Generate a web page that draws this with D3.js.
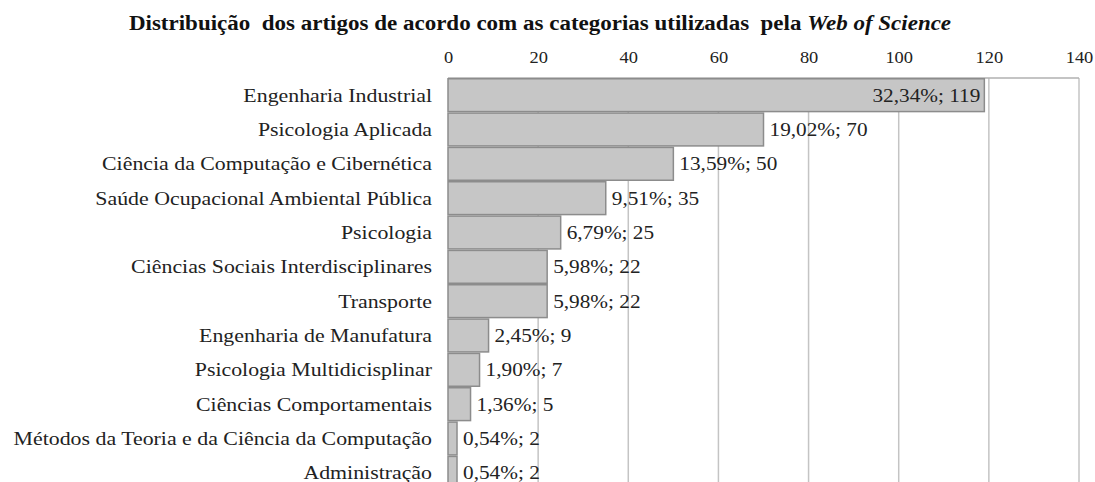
<!DOCTYPE html>
<html><head><meta charset="utf-8">
<script src="https://cdn.jsdelivr.net/npm/d3@7"></script>
<style>body{margin:0;background:#fff}svg{display:block}text{white-space:pre}</style>
</head><body>
<svg id="c" width="1095" height="482"></svg>
<script>
const categories = ["Engenharia Industrial","Psicologia Aplicada","Ciência da Computação e Cibernética","Saúde Ocupacional Ambiental Pública","Psicologia","Ciências Sociais Interdisciplinares","Transporte","Engenharia de Manufatura","Psicologia Multidicisplinar","Ciências Comportamentais","Métodos da Teoria e da Ciência da Computação","Administração"];
const counts = [119,70,50,35,25,22,22,9,7,5,2,2];
const percents = ["32,34%","19,02%","13,59%","9,51%","6,79%","5,98%","5,98%","2,45%","1,90%","1,36%","0,54%","0,54%"];
const xTicks = [0,20,40,60,80,100,120,140];

const svg = d3.select("#c");
const x = d3.scaleLinear().domain([0,140]).range([448,1079]);
const y = d3.scaleBand().domain(categories).range([78,490]).padding(0);
const serif = "'Liberation Serif','Times New Roman',serif";
const SX = 1.15;

// gridlines
svg.append("g").selectAll("line").data(xTicks.slice(1)).join("line")
  .attr("x1",d=>x(d)).attr("x2",d=>x(d)).attr("y1",78).attr("y2",490)
  .attr("stroke","#c4c4c4").attr("stroke-width",1.5);
// top border
svg.append("line").attr("x1",x(0)).attr("x2",x(140)).attr("y1",78).attr("y2",78)
  .attr("stroke","#b0b0b0").attr("stroke-width",1.5);

// x axis labels on top
const ax = svg.append("g").attr("transform","translate(0,63)")
  .call(d3.axisTop(x).tickValues(xTicks).tickSize(0).tickPadding(0));
ax.select(".domain").remove();
ax.selectAll("text").attr("font-family",serif).attr("font-size",16).attr("fill","#222")
  .attr("transform",`scale(${SX},1)`);

// bars
const data = categories.map((c,i)=>({c, v:counts[i], p:percents[i]}));
svg.append("g").selectAll("rect").data(data).join("rect")
  .attr("x",x(0)).attr("y",d=>y(d.c)+0.75)
  .attr("width",d=>x(d.v)-x(0)).attr("height",y.bandwidth()-1.5)
  .attr("fill","#c6c6c6").attr("stroke","#8c8c8c").attr("stroke-width",1.5);

// category labels
svg.append("g").selectAll("text").data(data).join("text")
  .attr("transform",d=>`translate(432,${y(d.c)+y.bandwidth()/2}) scale(${SX},1)`)
  .attr("dy","0.35em")
  .attr("text-anchor","end").attr("font-family",serif).attr("font-size",19).attr("fill","#222")
  .text(d=>d.c);

// value labels
svg.append("g").selectAll("text").data(data).join("text")
  .attr("transform",(d,i)=>`translate(${i===0 ? x(d.v)-4 : x(d.v)+6},${y(d.c)+y.bandwidth()/2}) scale(${SX},1)`)
  .attr("text-anchor",(d,i)=> i===0 ? "end":"start")
  .attr("dy","0.35em")
  .attr("font-family",serif).attr("font-size",18.5).attr("fill","#222")
  .text(d=>d.p+"; "+d.v);

// title
const t = svg.append("text").attr("transform","translate(540,30) scale(1.15,1)").attr("text-anchor","middle")
  .attr("font-family",serif).attr("font-size",20).attr("font-weight","bold").attr("fill","#111");
t.append("tspan").text("Distribuição  dos artigos de acordo com as categorias utilizadas  pela ");
t.append("tspan").attr("font-style","italic").text("Web of Science");
</script>
</body></html>
